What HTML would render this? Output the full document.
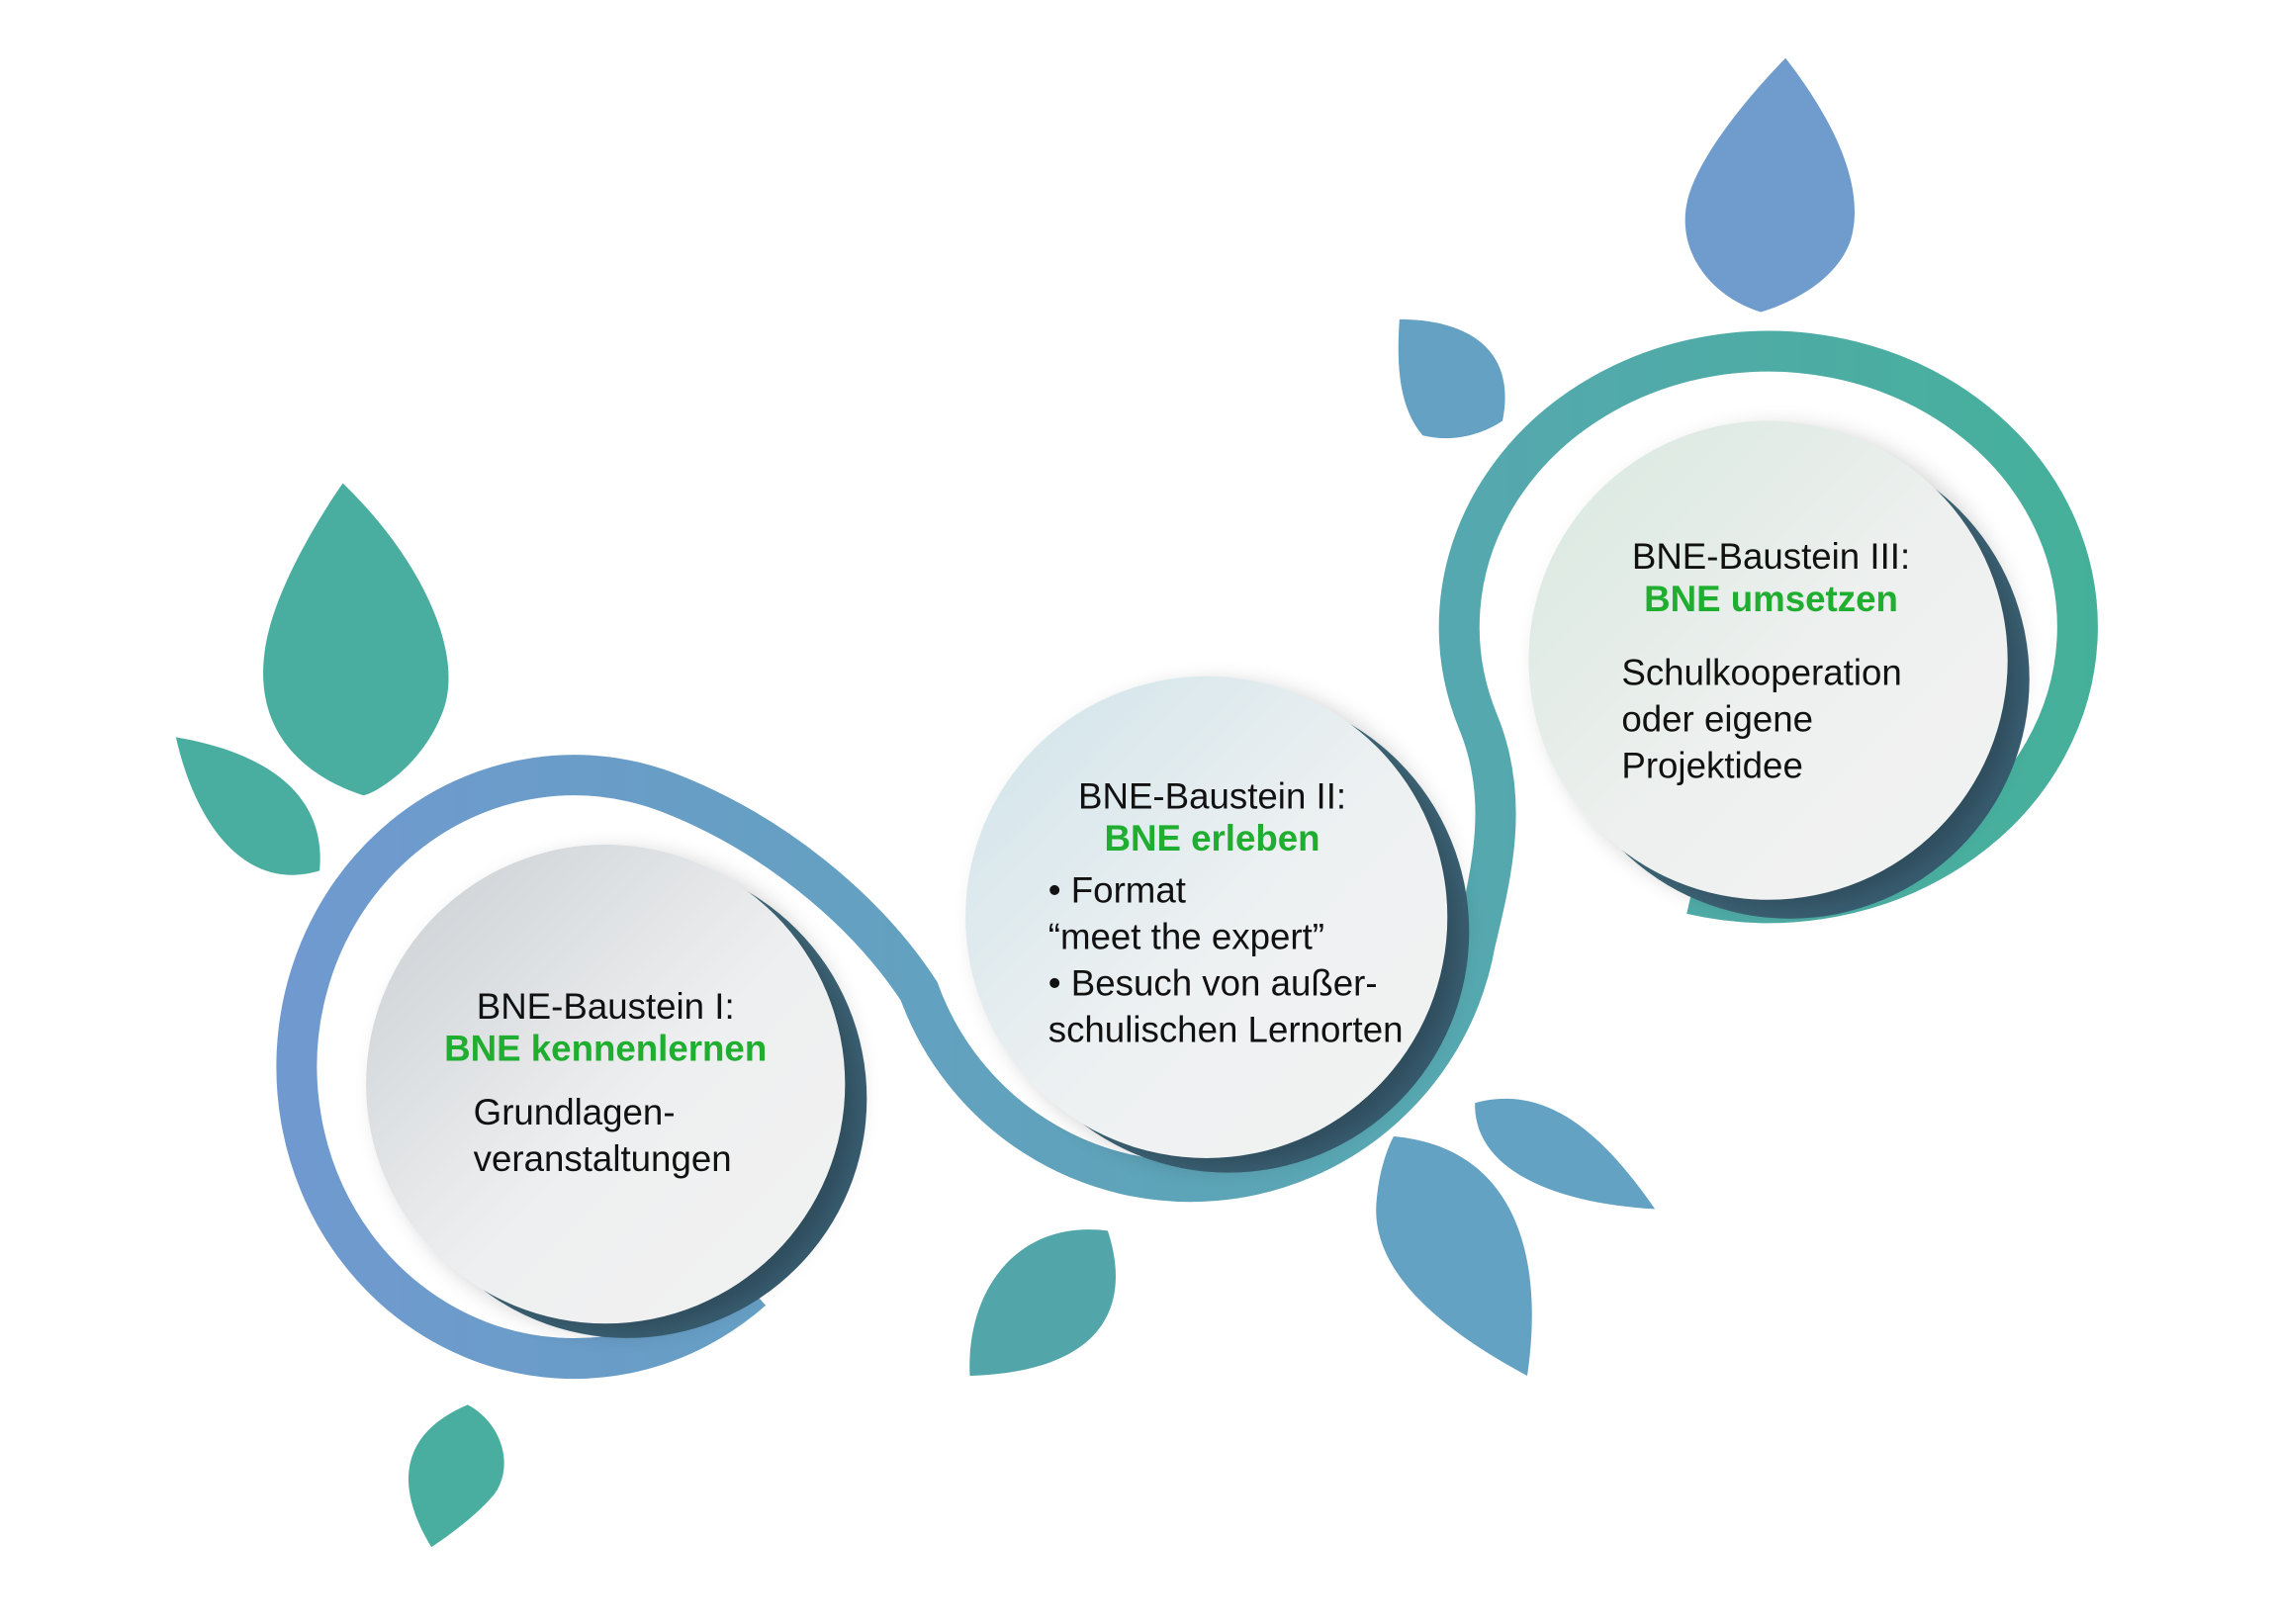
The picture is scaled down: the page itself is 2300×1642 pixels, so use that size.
<!DOCTYPE html>
<html><head><meta charset="utf-8"><style>
html,body{margin:0;padding:0;background:#fff;}
svg{display:block;}
text{font-family:"Liberation Sans",sans-serif;}
</style></head><body>
<svg width="2300" height="1642" viewBox="0 0 1567 1119" xmlns="http://www.w3.org/2000/svg">
<defs>
<linearGradient id="ring" x1="190" y1="0" x2="1445" y2="0" gradientUnits="userSpaceOnUse">
<stop offset="0" stop-color="#7099d0"/><stop offset="0.45" stop-color="#5fa3bb"/><stop offset="1" stop-color="#45b09a"/>
</linearGradient>
<linearGradient id="c1" x1="0" y1="0" x2="1" y2="1"><stop offset="0" stop-color="#c9ced2"/><stop offset="0.55" stop-color="#eeeff0"/><stop offset="1" stop-color="#f2f2f2"/></linearGradient>
<linearGradient id="c2" x1="0" y1="0" x2="1" y2="1"><stop offset="0" stop-color="#cfe3ea"/><stop offset="0.55" stop-color="#eef1f2"/><stop offset="1" stop-color="#f2f2f2"/></linearGradient>
<linearGradient id="c3" x1="0" y1="0" x2="1" y2="1"><stop offset="0" stop-color="#d8e8df"/><stop offset="0.55" stop-color="#eef0ef"/><stop offset="1" stop-color="#f2f2f2"/></linearGradient>
<linearGradient id="sh" x1="0" y1="0" x2="1" y2="1"><stop offset="0" stop-color="#4e7f90"/><stop offset="1" stop-color="#34566a"/></linearGradient>
<filter id="blur" x="-20%" y="-20%" width="140%" height="140%"><feGaussianBlur stdDeviation="8"/></filter>
</defs>
<path d="M236,333 C290,385 320,450 305,490 C290,530 255,548 250,548 C210,535 175,505 182,450 C188,400 236,333 236,333Z" fill="#49ae9f"/>
<path d="M121,508 C180,518 225,545 220,600 C170,615 135,570 121,508Z" fill="#49ae9f"/>
<path d="M322,968 C345,980 355,1010 340,1030 C325,1048 297,1066 297,1066 C275,1030 270,990 322,968Z" fill="#49ae9f"/>
<path d="M668,948 C665,890 700,840 763,848 C780,900 760,945 668,948Z" fill="#52a6aa"/>
<path d="M1052,948 C1000,920 945,880 948,830 C950,800 960,783 960,783 C1040,790 1065,860 1052,948Z" fill="#64a2c3"/>
<path d="M1140,833 C1080,830 1015,810 1016,760 C1070,745 1110,790 1140,833Z" fill="#64a2c3"/>
<path d="M1230,40 C1265,85 1285,130 1275,165 C1265,195 1230,210 1213,215 C1180,205 1155,175 1162,140 C1170,100 1230,40 1230,40Z" fill="#6f9ccc"/>
<path d="M964,220 C1010,220 1045,240 1035,290 C1020,300 1000,305 980,300 C963,280 962,250 964,220Z" fill="#65a1c2"/>
<path d="M518,889 A191,201 0 1 1 460,546 C530,573 595,625 633,683 A199,199 0 0 0 1016,650 C1028,600 1040,550 1018,497 A213,190 0 1 1 1165,616" fill="none" stroke="url(#ring)" stroke-width="28"/>
<circle cx="432" cy="757" r="165" fill="url(#sh)"/>
<circle cx="846" cy="642" r="166" fill="url(#sh)"/>
<circle cx="1233" cy="468" r="165" fill="url(#sh)"/>
<circle cx="425" cy="752" r="165" fill="#000" opacity="0.2" filter="url(#blur)"/>
<circle cx="839" cy="637" r="166" fill="#000" opacity="0.2" filter="url(#blur)"/>
<circle cx="1226" cy="460" r="165" fill="#000" opacity="0.2" filter="url(#blur)"/>
<circle cx="417" cy="747" r="165" fill="url(#c1)"/>
<circle cx="831" cy="632" r="166" fill="url(#c2)"/>
<circle cx="1218" cy="455" r="165" fill="url(#c3)"/>
<g font-size="25" fill="#111">
<text x="417" y="702" text-anchor="middle">BNE-Baustein I:</text>
<text x="417" y="731" text-anchor="middle" fill="#1fae2f" font-weight="bold">BNE kennenlernen</text>
<text x="326" y="775">Grundlagen-</text>
<text x="326" y="807">veranstaltungen</text>
<text x="835" y="557" text-anchor="middle">BNE-Baustein II:</text>
<text x="835" y="586" text-anchor="middle" fill="#1fae2f" font-weight="bold">BNE erleben</text>
<text x="722" y="622">• Format</text>
<text x="722" y="654">“meet the expert”</text>
<text x="722" y="686">• Besuch von außer-</text>
<text x="722" y="718">schulischen Lernorten</text>
<text x="1220" y="392" text-anchor="middle">BNE-Baustein III:</text>
<text x="1220" y="421" text-anchor="middle" fill="#1fae2f" font-weight="bold">BNE umsetzen</text>
<text x="1117" y="472">Schulkooperation</text>
<text x="1117" y="504">oder eigene</text>
<text x="1117" y="536">Projektidee</text>
</g>
</svg>
</body></html>
